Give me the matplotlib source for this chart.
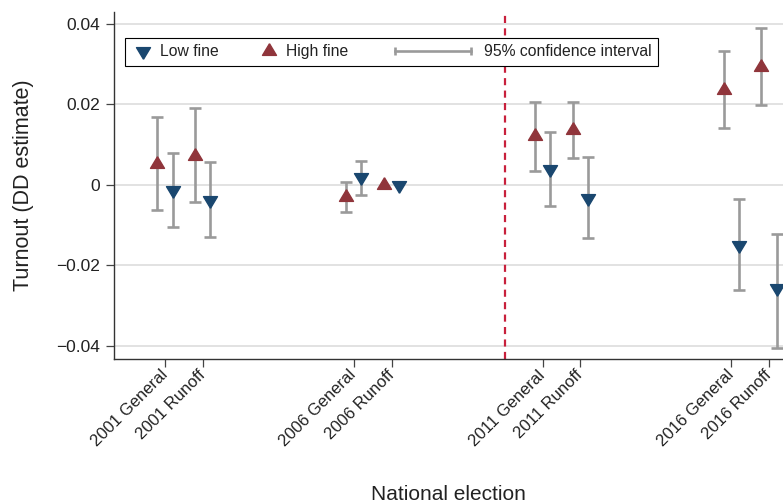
import numpy as np
import matplotlib
matplotlib.use("Agg")
import matplotlib.pyplot as plt
from matplotlib.lines import Line2D
from matplotlib.path import Path
from matplotlib.legend_handler import HandlerLine2D

# Data (DD estimates with 95% CIs)
elections = ["2001 General", "2001 Runoff", "2006 General", "2006 Runoff",
             "2011 General", "2011 Runoff", "2016 General", "2016 Runoff"]
xpos = [1, 2, 6, 7, 11, 12, 16, 17]
nan = np.nan
high_est = [0.0052, 0.0073, -0.0029, 0.0, 0.0121, 0.0137, 0.0237, 0.0294]
high_lo = [-0.0062, -0.0043, -0.0066, nan, 0.0036, 0.0066, 0.0142, 0.0199]
high_hi = [0.0168, 0.0191, 0.0008, nan, 0.0207, 0.0207, 0.0333, 0.0391]
low_est = [-0.0012, -0.0037, 0.0019, 0.0, 0.0039, -0.0032, -0.0150, -0.0255]
low_lo = [-0.0104, -0.0130, -0.0025, nan, -0.0052, -0.0131, -0.0262, -0.0404]
low_hi = [0.0080, 0.0057, 0.0060, nan, 0.0131, 0.0069, -0.0035, -0.0122]
policy_change = 10
yticks = [-0.04, -0.02, 0, 0.02, 0.04]

RED = "#90353B"
BLUE = "#1A476F"
CI_GRAY = "#9A9A9A"
VLINE = "#C8203C"
TXT = "#222222"

plt.rcParams["font.family"] = ["Liberation Sans", "DejaVu Sans"]

# triangles centred on their centroid, like Stata draws them
tri_up = Path([(0, 2 / 3), (-0.6, -1 / 3), (0.6, -1 / 3), (0, 2 / 3)])
tri_down = Path([(0, -2 / 3), (-0.6, 1 / 3), (0.6, 1 / 3), (0, -2 / 3)])
MS = 11.2


class CIHandler(HandlerLine2D):
    # longer line with caps at both ends, reaching left of the handle box
    def get_xdata(self, legend, xdescent, ydescent, width, height, fontsize):
        x = np.array([width - 5.34 * fontsize, width - 0.5 * fontsize]) - xdescent
        return x, x


fig = plt.figure(figsize=(7.83, 5.03), dpi=100)
ax = fig.add_axes([114 / 783, 1 - 359 / 503, 669 / 783, 347 / 503])

x = np.array(xpos, dtype=float)
off = 0.2

def draw(xs, est, lo, hi, marker, color):
    est = np.array(est)
    lo = np.array(lo)
    hi = np.array(hi)
    yerr = np.vstack([est - lo, hi - est])
    ax.errorbar(xs, est, yerr=yerr, fmt="none", ecolor=CI_GRAY,
                elinewidth=1.9, capsize=4, capthick=1.9, zorder=3)
    ax.plot(xs, est, ls="none", marker=marker, ms=MS, color=color,
            mec=color, zorder=4)

draw(x - off, high_est, high_lo, high_hi, tri_up, RED)
draw(x + off, low_est, low_lo, low_hi, tri_down, BLUE)

ax.axvline(policy_change, color=VLINE, lw=1.6, ls=(0, (3.2, 2.4)), zorder=2)

ax.set_xlim(-0.351, 17.37)
ax.set_ylim(-0.04323, 0.04298)
ax.set_yticks(yticks)
ax.set_yticklabels(["\u22120.04", "\u22120.02", "0", "0.02", "0.04"])
ax.set_xticks(xpos)
ax.set_xticklabels(elections, rotation=45, ha="right", va="center",
                   rotation_mode="anchor")

ax.grid(axis="y", color="#DADADA", lw=1.1, zorder=0)
ax.set_axisbelow(True)
for s in ["top", "right"]:
    ax.spines[s].set_visible(False)
for s in ["left", "bottom"]:
    ax.spines[s].set_color("#333333")
    ax.spines[s].set_linewidth(1.0)

ax.tick_params(axis="both", length=5.8, width=0.9, color="#444444",
               labelcolor=TXT, labelsize=12)
ax.tick_params(axis="y", pad=4.3, labelsize=12.5)
ax.tick_params(axis="x", pad=4)

ax.set_ylabel("Turnout (DD estimate)", fontsize=15.5, color=TXT, labelpad=16)
ax.set_xlabel("National election", fontsize=15, color=TXT, labelpad=25.5)

h_low = Line2D([], [], ls="none", marker=tri_down, ms=MS, color=BLUE)
h_high = Line2D([], [], ls="none", marker=tri_up, ms=MS, color=RED)
h_gap = Line2D([], [], ls="none")
h_ci = Line2D([], [], color=CI_GRAY, lw=1.9, marker="|", ms=6, mew=1.9)

leg = ax.legend([h_low, h_high, h_gap, h_ci],
                ["Low fine", "High fine", "", "95% confidence interval"],
                handler_map={h_ci: CIHandler(numpoints=2)},
                ncol=4, loc="upper left", bbox_to_anchor=(0.0164, 0.925),
                borderaxespad=0, fontsize=11.3, handlelength=1.5,
                handletextpad=0.33, columnspacing=2.48, borderpad=0.4,
                fancybox=False, framealpha=1, edgecolor="black")
leg.get_frame().set_linewidth(0.8)
for t in leg.get_texts():
    t.set_color(TXT)

fig.savefig("out.png", dpi=100)
